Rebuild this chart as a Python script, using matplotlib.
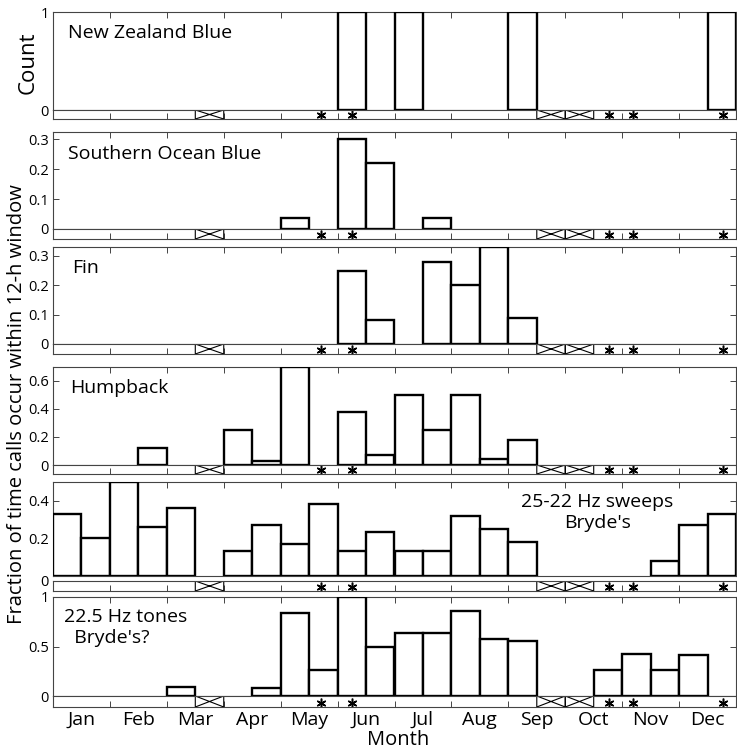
import numpy as np
import matplotlib
matplotlib.use('Agg')
import matplotlib.pyplot as plt
from matplotlib.ticker import FormatStrFormatter

plt.rcParams['font.family'] = ['Open Sans', 'DejaVu Sans']

# half-month bins, Jan 1st half .. Dec 2nd half
months = ['Jan', 'Feb', 'Mar', 'Apr', 'May', 'Jun',
          'Jul', 'Aug', 'Sep', 'Oct', 'Nov', 'Dec']

nz_blue = [0, 0, 0, 0, 0, 0, 0, 0, 0, 0, 1, 0,
           1, 0, 0, 0, 1, 0, 0, 0, 0, 0, 0, 1]
so_blue = [0, 0, 0, 0, 0, 0, 0, 0, 0.037, 0, 0.30, 0.22,
           0, 0.037, 0, 0, 0, 0, 0, 0, 0, 0, 0, 0]
fin = [0, 0, 0, 0, 0, 0, 0, 0, 0, 0, 0.25, 0.08,
       0, 0.28, 0.20, 0.33, 0.09, 0, 0, 0, 0, 0, 0, 0]
humpback = [0, 0, 0, 0.12, 0, 0, 0.25, 0.03, 0.70, 0, 0.38, 0.075,
            0.50, 0.25, 0.50, 0.045, 0.18, 0, 0, 0, 0, 0, 0, 0]
sweeps = [0.33, 0.20, 0.50, 0.26, 0.36, 0, 0.13, 0.27, 0.17, 0.38, 0.13, 0.23,
          0.13, 0.13, 0.32, 0.25, 0.18, 0, 0, 0, 0, 0.078, 0.27, 0.33]
tones = [0, 0, 0, 0, 0.095, 0, 0, 0.08, 0.84, 0.265, 1.0, 0.50,
         0.64, 0.64, 0.86, 0.58, 0.555, 0, 0, 0.26, 0.425, 0.26, 0.41, 0]

no_data_bins = [5, 17, 18]          # bins with no recordings (X boxes)
star_months = [4.71, 5.26, 9.76, 10.19, 11.77]

series = [nz_blue, so_blue, fin, humpback, sweeps, tones]
labels = ['New Zealand Blue', 'Southern Ocean Blue', 'Fin', 'Humpback',
          "25-22 Hz sweeps\nBryde's", "22.5 Hz tones\n  Bryde's?"]
ytops = [1, 0.325, 0.33, 0.70, 0.50, 1.0]
yticks = [[1], [0.1, 0.2, 0.3], [0.1, 0.2, 0.3], [0.2, 0.4, 0.6],
          [0.2, 0.4], [0.5, 1]]

# layout in pixels: panel top, zero line, strip top, strip bottom
W, H = 737, 754
rows = [(12, 110, 110, 119), (132, 229, 229, 239), (247, 344, 344, 354),
        (367, 465, 465, 474), (482, 575.5, 581, 591), (597, 696, 696, 707)]
label_pos = [(0.022, 0.79, 'left'), (0.022, 0.775, 'left'), (0.028, 0.78, 'left'),
             (0.025, 0.79, 'left'), (0.797, 0.67, 'center'), (0.016, 0.69, 'left')]
x_left, x_right = 53, 736

fig = plt.figure(figsize=(W / 100, H / 100), dpi=100)
spine_col = '#444444'
left_edges = np.arange(24) * 0.5

for k, (vals, row) in enumerate(zip(series, rows)):
    top, zero, stop, sbot = row
    ax = fig.add_axes([x_left / W, 1 - zero / H, (x_right - x_left) / W, (zero - top) / H])
    sx = fig.add_axes([x_left / W, 1 - sbot / H, (x_right - x_left) / W, (sbot - stop) / H])

    vals = np.array(vals)
    m = vals > 0
    ax.bar(left_edges[m], vals[m], width=0.5, align='edge', facecolor='white',
           edgecolor='black', linewidth=1.7, zorder=3)
    ax.set_xlim(0, 12)
    ax.set_ylim(0, ytops[k])
    ax.set_xticks(np.arange(1, 12))
    ax.set_yticks(yticks[k])
    ax.yaxis.set_major_formatter(FormatStrFormatter('%g'))
    ax.tick_params(axis='x', which='both', direction='in', top=True, bottom=False,
                   labelbottom=False, length=4.3, width=0.7, color=spine_col)
    ax.tick_params(axis='y', direction='in', left=True, right=True, length=4,
                   width=0.7, color=spine_col, labelsize=10.5, pad=3)
    for s in ax.spines.values():
        s.set_color(spine_col)
        s.set_linewidth(0.8)

    tx, ty, ha = label_pos[k]
    ax.text(tx, ty, labels[k], transform=ax.transAxes, ha=ha, va='center',
            fontsize=14, multialignment='center' if ha == 'center' else 'left',
            linespacing=1.2)

    # strip with no-data boxes and asterisks
    sx.set_xlim(0, 12)
    sx.set_ylim(-1, 0)
    for b in no_data_bins:
        x0, x1 = left_edges[b], left_edges[b] + 0.5
        sx.plot([x0, x1, x1, x0, x0], [0, -1, 0, -1, 0], color='black', lw=0.8)
    sx.plot(star_months, [-0.6] * len(star_months), linestyle='none',
            marker=(6, 2, 0), markersize=7, mec='black', mew=1.1)
    sx.set_yticks([0])
    sx.yaxis.set_major_formatter(FormatStrFormatter('%g'))
    sx.set_xticks(np.arange(1, 12))
    sx.tick_params(axis='x', direction='in', bottom=True, top=False, length=4.3,
                   width=0.7, color=spine_col, labelbottom=False)
    sx.tick_params(axis='y', direction='in', length=0, labelsize=10.5, pad=3)
    for s in sx.spines.values():
        s.set_color(spine_col)
        s.set_linewidth(0.8)

    if k == len(series) - 1:
        sx.set_xticks(np.arange(12) + 0.5, minor=True)
        sx.set_xticklabels(months, minor=True)
        sx.tick_params(axis='x', which='minor', length=0, labelbottom=True,
                       labelsize=14, pad=3)

fig.text(28 / W, 1 - 63 / H, 'Count', rotation=90, ha='center', va='center', fontsize=16)
fig.text(17 / W, 1 - 404 / H, 'Fraction of time calls occur within 12-h window',
         rotation=90, ha='center', va='center', fontsize=14.5)
fig.text(398 / W, 1 - 740 / H, 'Month', ha='center', va='center', fontsize=14.5)

fig.savefig('out.png', dpi=100)
